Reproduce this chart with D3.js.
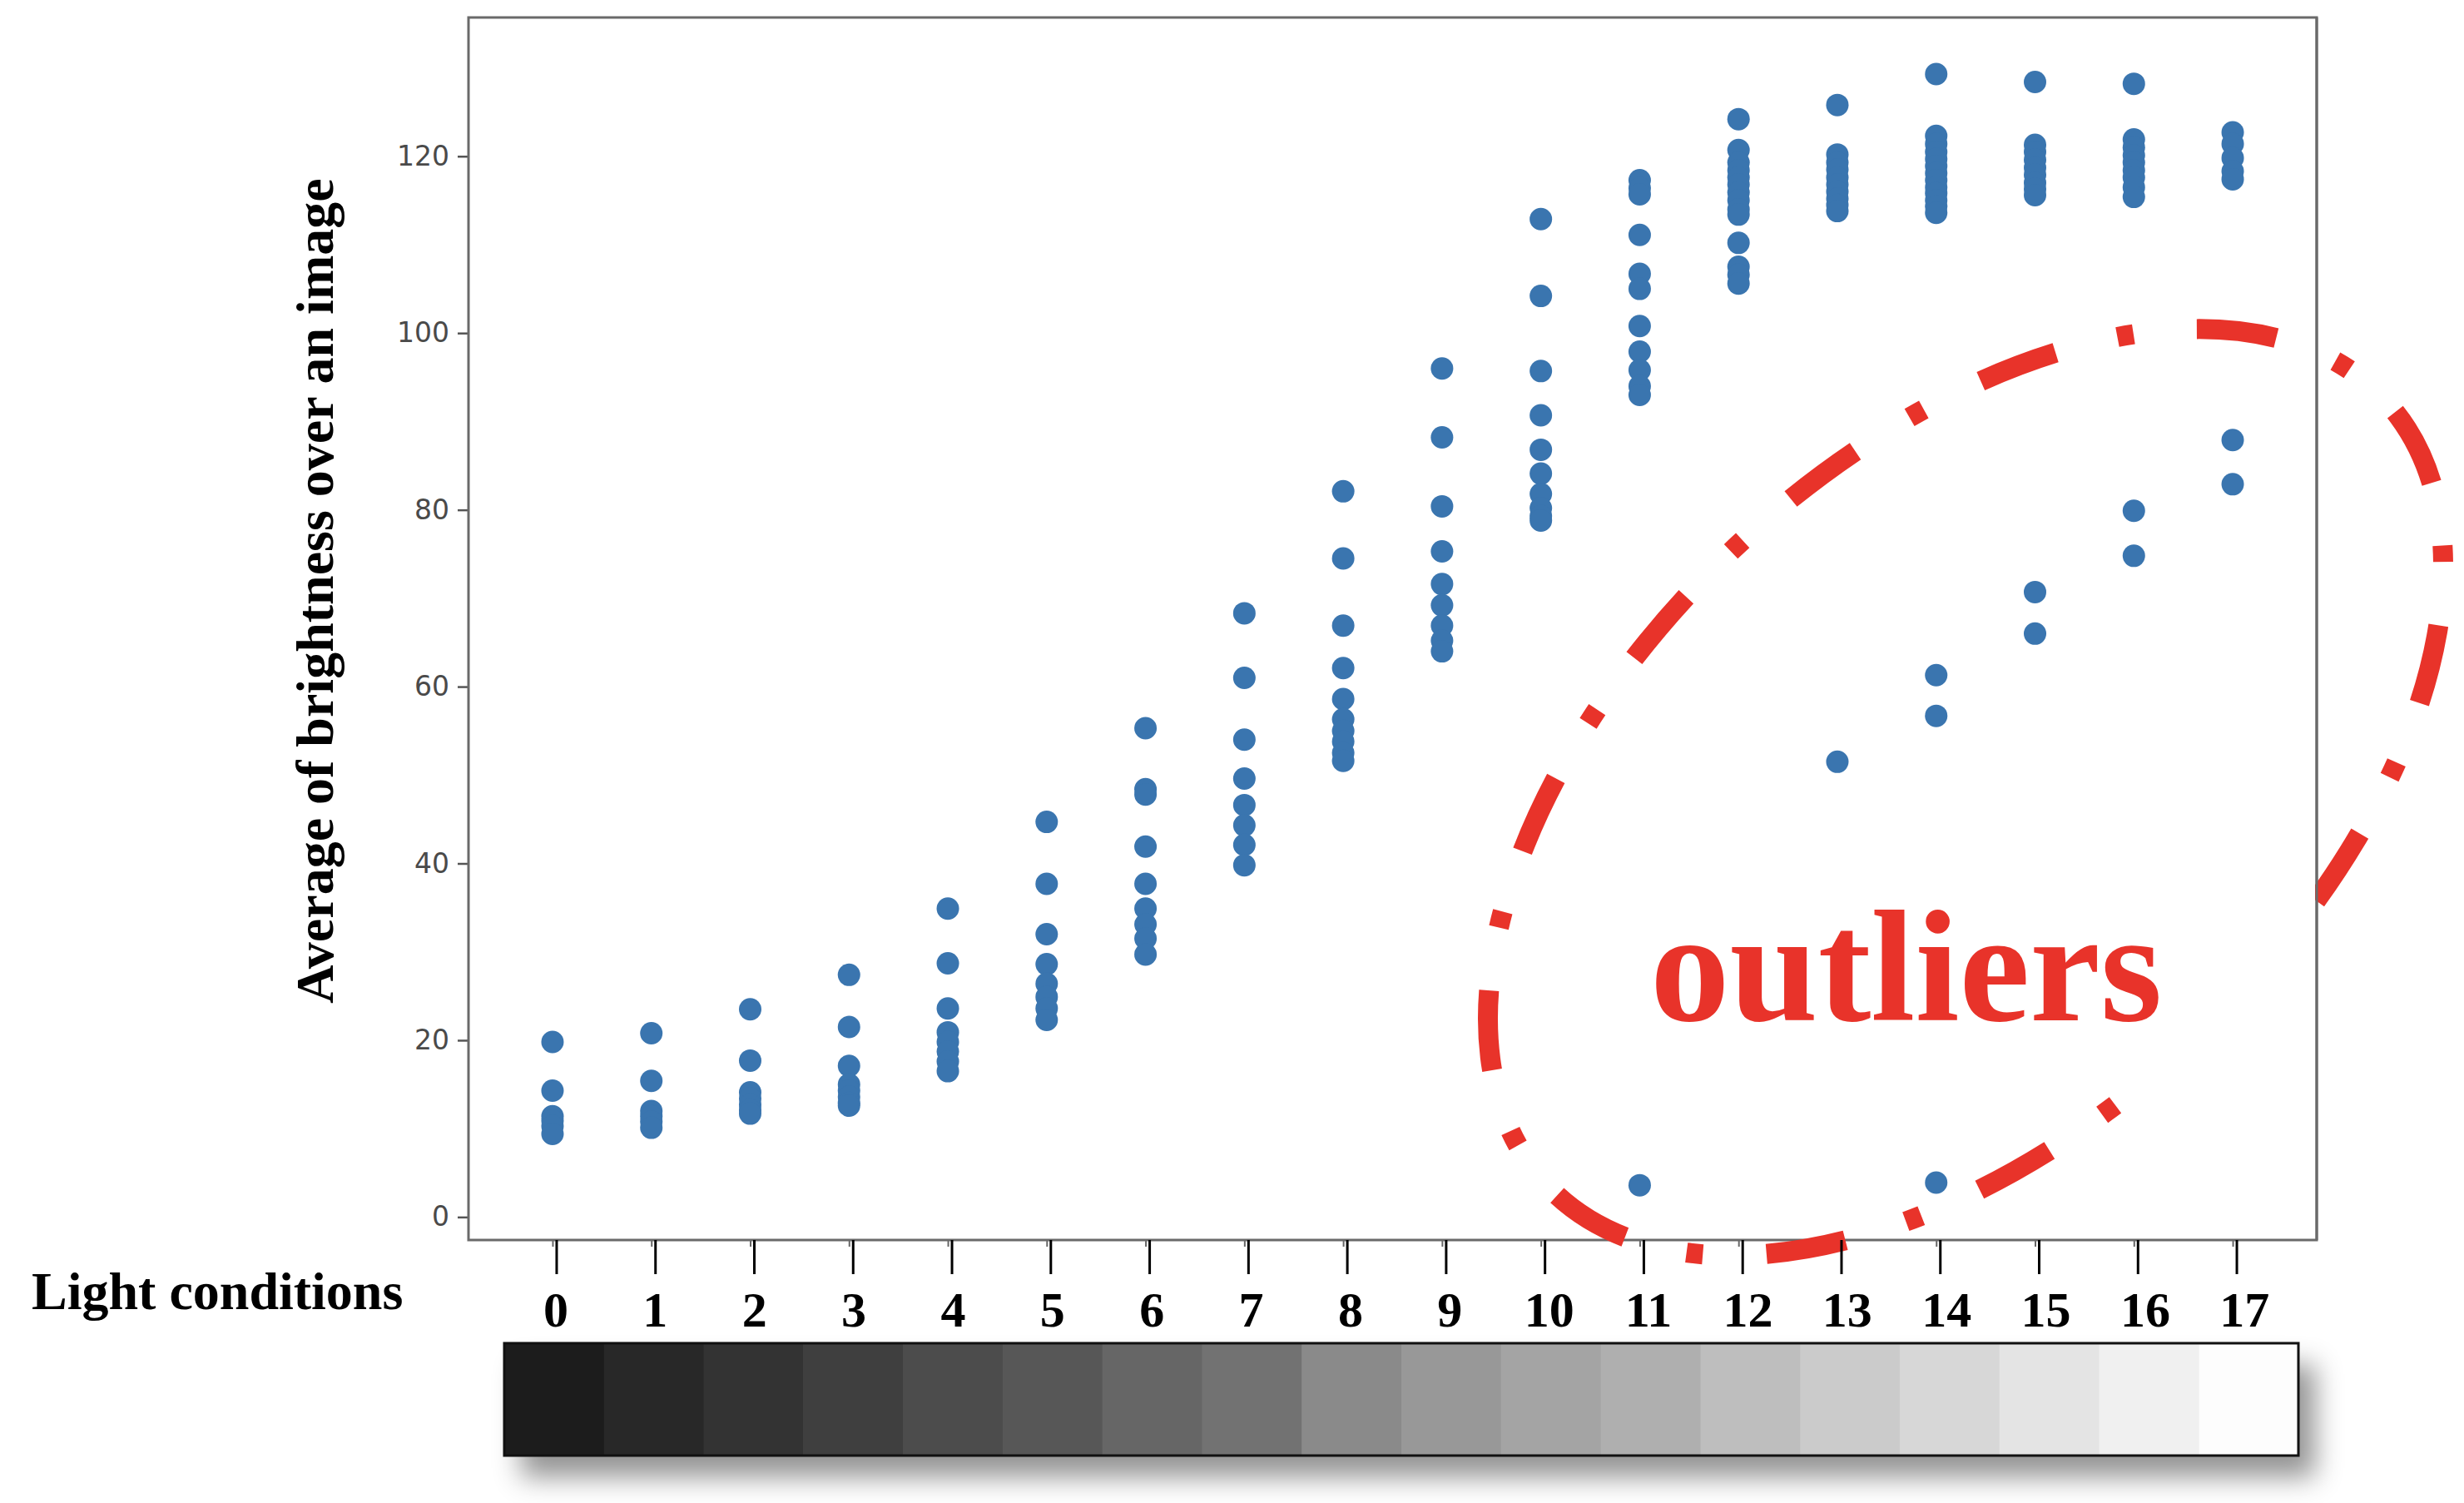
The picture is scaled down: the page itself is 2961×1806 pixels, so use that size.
<!DOCTYPE html>
<html>
<head>
<meta charset="utf-8">
<script src="https://cdn.jsdelivr.net/npm/d3@7"></script>
<style>
  html, body { margin: 0; padding: 0; background: #ffffff; }
  svg { display: block; }
</style>
</head>
<body>
<script>
// ---------------- data ----------------
const categories = [0,1,2,3,4,5,6,7,8,9,10,11,12,13,14,15,16,17];
const brightnessByLevel = [
  [19.8, 14.3, 11.4, 10.9, 10.3, 9.4],
  [20.8, 15.4, 12.0, 11.4, 10.8, 10.1],
  [23.5, 17.7, 14.1, 13.4, 12.7, 12.1, 11.7],
  [27.4, 21.5, 17.1, 15.0, 14.3, 13.6, 12.9, 12.6],
  [34.9, 28.7, 23.6, 20.9, 19.8, 18.7, 17.6, 16.5],
  [44.7, 37.7, 32.0, 28.6, 26.4, 24.9, 23.6, 22.3],
  [55.3, 48.4, 47.8, 41.9, 37.7, 34.9, 33.1, 31.5, 29.7],
  [68.3, 61.0, 54.0, 49.6, 46.6, 44.3, 42.1, 39.8],
  [82.1, 74.5, 66.9, 62.1, 58.6, 56.3, 55.0, 53.8, 52.5, 51.6],
  [96.0, 88.2, 80.4, 75.3, 71.6, 69.2, 66.9, 65.2, 64.0],
  [112.9, 104.2, 95.7, 90.7, 86.8, 84.1, 81.8, 80.2, 79.3, 78.8],
  [117.3, 116.4, 115.7, 111.1, 106.7, 105.0, 100.8, 97.9, 95.8, 94.0, 93.0],
  [124.2, 120.7, 119.3, 118.4, 117.6, 116.8, 115.9, 115.0, 114.0, 113.4, 110.2, 107.5, 106.6, 105.6],
  [125.8, 120.2, 119.3, 118.5, 117.6, 116.8, 116.0, 115.2, 114.5, 113.8],
  [129.3, 122.3, 121.4, 120.5, 119.7, 118.9, 118.1, 117.3, 116.5, 115.8, 115.0, 114.3, 113.6],
  [128.4, 121.3, 120.5, 119.6, 118.7, 117.9, 117.0, 116.3, 115.6],
  [128.2, 121.9, 121.0, 120.1, 119.3, 118.4, 117.6, 116.5, 115.4],
  [122.7, 121.4, 119.8, 118.3, 117.4]
];
const outlierLevel      = [11, 13, 14, 14, 14, 15, 15, 16, 16, 17, 17];
const outlierBrightness = [3.6, 51.5, 61.3, 56.7, 3.9, 70.7, 66.0, 79.9, 74.8, 87.9, 82.9];
const yTicks = [0, 20, 40, 60, 80, 100, 120];
const shadeColors = ["#1c1c1c","#282828","#333333","#3f3f3f","#4c4c4c","#575757","#666666","#727272",
                     "#8a8a8a","#989898","#a4a4a4","#afafaf","#bebebe","#cbcbcb","#d7d7d7","#e4e4e4","#f0f0f0","#fdfdfd"];
const yLabel = "Average of brightness over an image";
const xLabel = "Light conditions";
const annotationText = "outliers";

// ---------------- layout ----------------
const W = 2961, H = 1806;
const plot = { left: 563, top: 21, right: 2784, bottom: 1490 };
const serif = "'Liberation Serif', 'Times New Roman', serif";

const svg = d3.select("body").append("svg").attr("width", W).attr("height", H);
svg.append("rect").attr("width", W).attr("height", H).attr("fill", "#fff");

const x = d3.scaleLinear().domain([-0.85, 17.85]).range([plot.left, plot.right]);
const y = d3.scaleLinear().domain([-2.6, 135.7]).range([plot.bottom, plot.top]);

// points
const points = [];
brightnessByLevel.forEach((vals, i) => vals.forEach(v => points.push({ c: categories[i], v })));
outlierLevel.forEach((c, i) => points.push({ c, v: outlierBrightness[i] }));

svg.append("g").selectAll("circle").data(points).join("circle")
  .attr("cx", d => x(d.c)).attr("cy", d => y(d.v)).attr("r", 13.5)
  .attr("fill", "#3a75af");

// y axis
const yAxis = svg.append("g").attr("transform", `translate(${plot.left},0)`)
  .call(d3.axisLeft(y).tickValues(yTicks).tickSize(13).tickPadding(10));
yAxis.select(".domain").remove();
yAxis.selectAll(".tick line").attr("stroke", "#555").attr("stroke-width", 2.5);
yAxis.selectAll(".tick text").attr("fill", "#4a4a4a")
  .style("font-family", "'DejaVu Sans', sans-serif").style("font-size", "33px");

// tiny matplotlib x ticks
const xAxis = svg.append("g").attr("transform", `translate(0,${plot.bottom})`)
  .call(d3.axisBottom(x).tickValues(categories).tickSize(8).tickFormat(""));
xAxis.select(".domain").remove();
xAxis.selectAll(".tick line").attr("stroke", "#666").attr("stroke-width", 2);

// frame
svg.append("rect").attr("x", plot.left).attr("y", plot.top)
  .attr("width", plot.right - plot.left).attr("height", plot.bottom - plot.top)
  .attr("fill", "none").attr("stroke", "#6a6a6a").attr("stroke-width", 3);

// y label
svg.append("text")
  .attr("transform", `translate(400,710) rotate(-90)`)
  .attr("text-anchor", "middle")
  .style("font-family", serif).style("font-weight", "bold").style("font-size", "64px")
  .attr("fill", "#000").text(yLabel);

// ---------------- annotation ellipse ----------------
const ell = { cx: 2362, cy: 952, rx: 690, ry: 404, rot: -43.2 };
const annot = svg.append("g").attr("transform", `translate(${ell.cx},${ell.cy}) rotate(${ell.rot})`);
const ellPath = annot.append("path")
  .attr("d", `M${ell.rx},0 A${ell.rx},${ell.ry} 0 1 1 ${-ell.rx},0 A${ell.rx},${ell.ry} 0 1 1 ${ell.rx},0`)
  .attr("fill", "none").attr("stroke", "#e8332a").attr("stroke-width", 24);
const node = ellPath.node();
const L = node.getTotalLength();
const period = L / 13;
const dashes = [0.358, 0.285, 0.073, 0.284].map(f => f * period);
// find arc position of the top dash centre
const target = [2686 - ell.cx, 402 - ell.cy];
const a = -ell.rot * Math.PI / 180;
const tl = [target[0] * Math.cos(a) - target[1] * Math.sin(a), target[0] * Math.sin(a) + target[1] * Math.cos(a)];
let best = 0, bestD = Infinity;
for (let s = 0; s < L; s += 2) {
  const p = node.getPointAtLength(s);
  const d = (p.x - tl[0]) ** 2 + (p.y - tl[1]) ** 2;
  if (d < bestD) { bestD = d; best = s; }
}
let off = (dashes[0] / 2 - best) % period;
if (off < 0) off += period;
ellPath.attr("stroke-dasharray", dashes.join(" ")).attr("stroke-dashoffset", off);

// white text box covering ellipse
svg.append("rect").attr("x", 1850).attr("y", 1040).attr("width", 2782 - 1850).attr("height", 1306 - 1040)
  .attr("fill", "#fff");
svg.append("line").attr("x1", plot.right).attr("x2", plot.right).attr("y1", plot.top).attr("y2", plot.bottom)
  .attr("stroke", "#6a6a6a").attr("stroke-width", 3);

svg.append("text").attr("x", 1983).attr("y", 1226)
  .style("font-family", serif).style("font-weight", "bold").style("font-size", "191px")
  .attr("fill", "#e8332a").text(annotationText);

// ---------------- light condition axis ----------------
const catAxis = svg.append("g");
catAxis.selectAll("line").data(categories).join("line")
  .attr("x1", d => x(d) + 5).attr("x2", d => x(d) + 5)
  .attr("y1", plot.bottom).attr("y2", 1531)
  .attr("stroke", "#000").attr("stroke-width", 3);
catAxis.selectAll("text").data(categories).join("text")
  .attr("x", d => x(d) + 4 + d * 0.6).attr("y", 1594).attr("text-anchor", "middle")
  .style("font-family", serif).style("font-weight", "bold").style("font-size", "60px")
  .attr("fill", "#000").text(d => d);

svg.append("text").attr("x", 38).attr("y", 1573)
  .style("font-family", serif).style("font-weight", "bold").style("font-size", "64px")
  .attr("fill", "#000").text(xLabel);

// colour bar
const defs = svg.append("defs");
const f = defs.append("filter").attr("id", "shadow").attr("x", "-5%").attr("y", "-40%").attr("width", "115%").attr("height", "210%");
f.append("feDropShadow").attr("dx", 20).attr("dy", 26).attr("stdDeviation", 16)
  .attr("flood-color", "#000").attr("flood-opacity", 0.42);

const bar = { left: 606, right: 2762, top: 1614, bottom: 1749 };
const bx = d3.scaleBand().domain(categories).range([bar.left, bar.right]).padding(0);
svg.append("rect").attr("x", bar.left).attr("y", bar.top)
  .attr("width", bar.right - bar.left).attr("height", bar.bottom - bar.top)
  .attr("fill", "#888").attr("filter", "url(#shadow)");
svg.append("g").selectAll("rect").data(categories).join("rect")
  .attr("x", d => bx(d)).attr("y", bar.top)
  .attr("width", bx.bandwidth() + 0.5).attr("height", bar.bottom - bar.top)
  .attr("fill", (d, i) => shadeColors[i]);
svg.append("rect").attr("x", bar.left).attr("y", bar.top)
  .attr("width", bar.right - bar.left).attr("height", bar.bottom - bar.top)
  .attr("fill", "none").attr("stroke", "#111").attr("stroke-width", 3);
</script>
</body>
</html>
